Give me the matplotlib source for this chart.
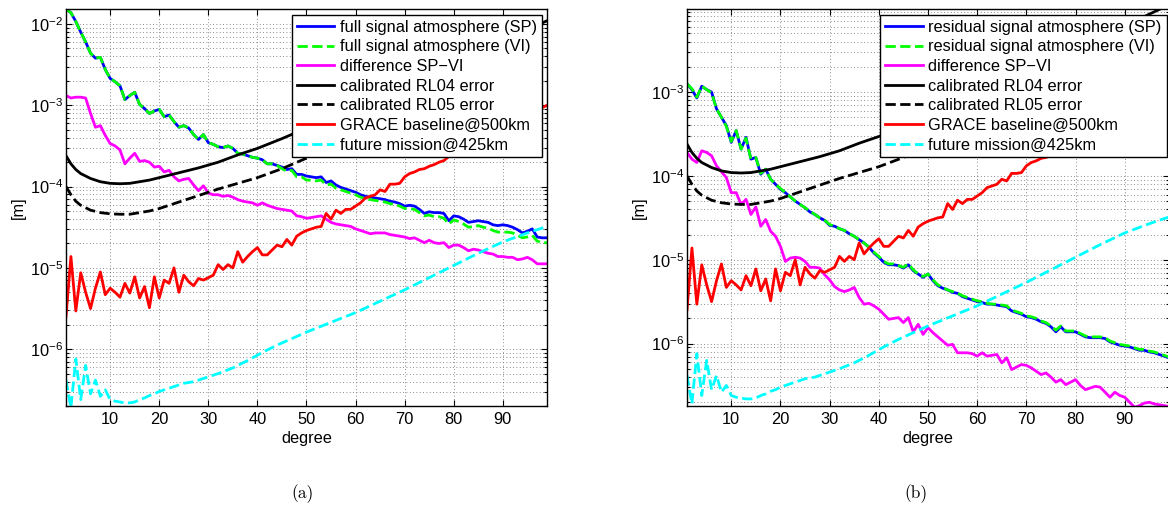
"""Degree amplitudes of atmospheric signal vs. GRACE error curves, panels (a) and (b)."""
import matplotlib
matplotlib.use('Agg')
import matplotlib.pyplot as plt
import numpy as np
from matplotlib.ticker import LogLocator, NullFormatter, FixedLocator

plt.rcParams['font.family'] = ['Liberation Sans', 'DejaVu Sans']
plt.rcParams['mathtext.fontset'] = 'custom'
plt.rcParams['mathtext.rm'] = 'Liberation Sans'
plt.rcParams['mathtext.it'] = 'Liberation Sans:italic'
plt.rcParams['mathtext.default'] = 'regular'

# spherical harmonic degree 1..99, values below are log10 of the amplitude [m]
DEG = list(range(1, 100))

LOG_FULL_SP = [
    -1.82, -1.86, -1.97, -2.10, -2.22, -2.36, -2.42, -2.41, -2.56, -2.67,
    -2.71, -2.76, -2.93, -2.88, -2.84, -2.99, -3.04, -3.10, -3.07, -3.05,
    -3.14, -3.12, -3.20, -3.27, -3.25, -3.28, -3.36, -3.42, -3.36, -3.46,
    -3.48, -3.51, -3.52, -3.50, -3.53, -3.59, -3.60, -3.62, -3.64, -3.65,
    -3.67, -3.72, -3.72, -3.74, -3.76, -3.79, -3.78, -3.85, -3.85, -3.87,
    -3.88, -3.89, -3.88, -3.95, -3.93, -3.98, -4.01, -4.03, -4.05, -4.07,
    -4.10, -4.12, -4.13, -4.14, -4.15, -4.16, -4.18, -4.19, -4.21, -4.24,
    -4.23, -4.24, -4.28, -4.33, -4.31, -4.32, -4.32, -4.33, -4.42, -4.36,
    -4.37, -4.40, -4.44, -4.43, -4.42, -4.43, -4.44, -4.47, -4.48, -4.47,
    -4.48, -4.50, -4.53, -4.57, -4.55, -4.52, -4.62, -4.63, -4.63]
LOG_FULL_VI = [
    -1.82, -1.86, -1.97, -2.10, -2.22, -2.36, -2.42, -2.41, -2.56, -2.67,
    -2.71, -2.76, -2.93, -2.88, -2.84, -2.99, -3.04, -3.10, -3.07, -3.05,
    -3.14, -3.12, -3.20, -3.27, -3.25, -3.28, -3.36, -3.42, -3.36, -3.46,
    -3.48, -3.51, -3.52, -3.50, -3.53, -3.59, -3.60, -3.62, -3.64, -3.65,
    -3.67, -3.72, -3.72, -3.74, -3.78, -3.81, -3.80, -3.88, -3.88, -3.92,
    -3.92, -3.93, -3.92, -3.98, -3.97, -4.02, -4.04, -4.06, -4.08, -4.10,
    -4.13, -4.15, -4.16, -4.17, -4.18, -4.19, -4.21, -4.22, -4.24, -4.27,
    -4.27, -4.28, -4.32, -4.36, -4.35, -4.37, -4.37, -4.39, -4.46, -4.41,
    -4.43, -4.46, -4.50, -4.49, -4.48, -4.50, -4.51, -4.54, -4.56, -4.56,
    -4.56, -4.57, -4.60, -4.63, -4.62, -4.60, -4.67, -4.69, -4.69]
LOG_DIFF_A = [
    -2.88, -2.91, -2.90, -2.90, -2.91, -3.10, -3.27, -3.25, -3.37, -3.47,
    -3.50, -3.55, -3.72, -3.65, -3.59, -3.69, -3.68, -3.70, -3.76, -3.75,
    -3.82, -3.80, -3.88, -3.93, -3.91, -3.90, -3.98, -4.05, -3.99, -4.08,
    -4.10, -4.10, -4.12, -4.11, -4.13, -4.16, -4.18, -4.19, -4.20, -4.23,
    -4.20, -4.23, -4.25, -4.27, -4.28, -4.29, -4.30, -4.36, -4.37, -4.39,
    -4.38, -4.37, -4.36, -4.40, -4.44, -4.46, -4.47, -4.48, -4.49, -4.52,
    -4.54, -4.56, -4.58, -4.57, -4.57, -4.57, -4.59, -4.60, -4.61, -4.62,
    -4.64, -4.63, -4.66, -4.69, -4.66, -4.69, -4.70, -4.69, -4.75, -4.72,
    -4.72, -4.75, -4.79, -4.77, -4.78, -4.80, -4.82, -4.83, -4.86, -4.86,
    -4.87, -4.87, -4.90, -4.89, -4.87, -4.90, -4.95, -4.95, -4.95]

LOG_RES_SP = [
    -2.90, -2.97, -3.07, -2.93, -2.97, -3.00, -3.20, -3.30, -3.40, -3.60,
    -3.46, -3.68, -3.54, -3.80, -3.78, -3.98, -3.92, -4.04, -4.10, -4.16,
    -4.20, -4.25, -4.30, -4.34, -4.38, -4.43, -4.46, -4.50, -4.53, -4.59,
    -4.60, -4.63, -4.65, -4.69, -4.72, -4.76, -4.80, -4.85, -4.92, -4.97,
    -5.03, -5.06, -5.06, -5.07, -5.10, -5.06, -5.13, -5.17, -5.21, -5.17,
    -5.25, -5.31, -5.34, -5.36, -5.39, -5.40, -5.44, -5.46, -5.48, -5.50,
    -5.51, -5.53, -5.53, -5.54, -5.55, -5.56, -5.61, -5.63, -5.65, -5.68,
    -5.69, -5.71, -5.74, -5.76, -5.80, -5.86, -5.80, -5.86, -5.86, -5.86,
    -5.89, -5.92, -5.93, -5.93, -5.93, -5.94, -5.98, -6.00, -6.02, -6.03,
    -6.04, -6.06, -6.08, -6.08, -6.10, -6.11, -6.13, -6.15, -6.17]
LOG_RES_VI = [
    -2.90, -2.96, -3.06, -2.93, -2.97, -3.01, -3.20, -3.30, -3.41, -3.59,
    -3.46, -3.68, -3.55, -3.80, -3.78, -3.97, -3.92, -4.04, -4.10, -4.15,
    -4.20, -4.25, -4.30, -4.34, -4.38, -4.42, -4.46, -4.50, -4.53, -4.58,
    -4.60, -4.63, -4.65, -4.69, -4.72, -4.76, -4.80, -4.85, -4.91, -4.96,
    -5.02, -5.05, -5.05, -5.07, -5.09, -5.05, -5.12, -5.17, -5.20, -5.17,
    -5.24, -5.30, -5.33, -5.36, -5.38, -5.40, -5.43, -5.45, -5.47, -5.49,
    -5.50, -5.52, -5.53, -5.53, -5.54, -5.55, -5.60, -5.62, -5.64, -5.67,
    -5.68, -5.70, -5.73, -5.75, -5.79, -5.84, -5.79, -5.85, -5.85, -5.85,
    -5.88, -5.91, -5.92, -5.92, -5.92, -5.93, -5.97, -5.99, -6.01, -6.02,
    -6.03, -6.05, -6.07, -6.07, -6.09, -6.10, -6.12, -6.14, -6.16]
LOG_DIFF_B = [
    -3.72, -3.80, -3.84, -3.70, -3.72, -3.76, -3.88, -3.95, -4.02, -4.20,
    -4.20, -4.34, -4.28, -4.46, -4.37, -4.60, -4.52, -4.66, -4.72, -4.84,
    -5.02, -4.98, -4.97, -4.98, -5.02, -5.09, -5.09, -5.10, -5.18, -5.24,
    -5.32, -5.36, -5.38, -5.36, -5.33, -5.45, -5.53, -5.52, -5.55, -5.59,
    -5.65, -5.71, -5.70, -5.69, -5.75, -5.69, -5.86, -5.77, -5.89, -5.81,
    -5.87, -5.92, -5.97, -6.02, -6.01, -6.11, -6.11, -6.11, -6.12, -6.15,
    -6.11, -6.15, -6.14, -6.13, -6.23, -6.17, -6.31, -6.28, -6.25, -6.26,
    -6.29, -6.33, -6.37, -6.35, -6.40, -6.46, -6.43, -6.49, -6.46, -6.43,
    -6.50, -6.55, -6.53, -6.51, -6.52, -6.58, -6.64, -6.58, -6.62, -6.64,
    -6.70, -6.76, -6.74, -6.71, -6.70, -6.72, -6.73, -6.74, -6.75]

# error curves shared by both panels
RL04_DEG = [1, 2, 3, 4, 6, 8, 10, 12, 14, 16, 18, 20, 24, 28, 32, 36, 40,
            45, 50, 55, 60, 65, 70, 75, 80, 85, 90, 95, 99]
LOG_RL04 = [-3.62, -3.72, -3.79, -3.84, -3.90, -3.94, -3.96, -3.965, -3.96,
            -3.94, -3.92, -3.89, -3.83, -3.77, -3.70, -3.61, -3.53, -3.41,
            -3.28, -3.15, -3.02, -2.89, -2.76, -2.63, -2.50, -2.36, -2.22,
            -2.07, -1.96]
RL05_DEG = [1, 2, 3, 4, 6, 8, 10, 12, 14, 16, 18, 20, 24, 28, 32, 36, 40,
            45, 50, 55, 60, 65, 70, 75, 80, 85, 90]
LOG_RL05 = [-4.00, -4.10, -4.18, -4.23, -4.29, -4.32, -4.335, -4.34, -4.34,
            -4.32, -4.30, -4.27, -4.19, -4.11, -4.03, -3.96, -3.89, -3.78,
            -3.65, -3.52, -3.38, -3.24, -3.10, -2.96, -2.82, -2.68, -2.54]
LOG_GRACE = [
    -5.60, -4.86, -5.53, -5.06, -5.30, -5.50, -5.25, -5.05, -5.33, -5.25,
    -5.30, -5.36, -5.19, -5.31, -5.11, -5.37, -5.23, -5.49, -5.11, -5.37,
    -5.15, -5.19, -5.00, -5.30, -5.09, -5.17, -5.22, -5.13, -5.15, -5.12,
    -5.09, -4.96, -5.02, -4.96, -5.00, -4.80, -4.93, -4.86, -4.80, -4.75,
    -4.84, -4.84, -4.78, -4.72, -4.74, -4.65, -4.72, -4.61, -4.57, -4.54,
    -4.52, -4.50, -4.49, -4.33, -4.40, -4.29, -4.33, -4.28, -4.28, -4.24,
    -4.20, -4.14, -4.12, -4.10, -4.04, -4.06, -3.97, -3.97, -3.96, -3.88,
    -3.84, -3.82, -3.79, -3.78, -3.75, -3.73, -3.70, -3.68, -3.63, -3.60,
    -3.58, -3.53, -3.52, -3.47, -3.45, -3.42, -3.38, -3.36, -3.33, -3.30,
    -3.26, -3.24, -3.20, -3.17, -3.13, -3.10, -3.07, -3.03, -3.00]
FUT_DEG = list(range(1, 31)) + [32, 35, 38, 41, 44, 47, 50, 55, 60, 65, 70,
                                75, 80, 85, 90, 95, 99]
LOG_FUTURE = [-6.38, -6.72, -6.12, -6.62, -6.20, -6.55, -6.38, -6.58, -6.50,
              -6.62, -6.64, -6.65, -6.66, -6.66, -6.65, -6.62, -6.60, -6.57,
              -6.55, -6.52, -6.50, -6.48, -6.46, -6.44, -6.42, -6.41, -6.40,
              -6.38, -6.36, -6.34, -6.30, -6.23, -6.14, -6.04, -5.95, -5.87,
              -5.79, -5.67, -5.55, -5.41, -5.27, -5.12, -4.97, -4.82, -4.68,
              -4.57, -4.49]

W, H = 1168, 511
FS = 11.8


def _amp(log_vals):
    return np.power(10.0, np.asarray(log_vals))


def _panel(ax, sp, vi, diff, names, ylim, leg_anchor):
    grid_kw = dict(linestyle=(0, (1, 3)), color='0.4', linewidth=0.6)
    ax.semilogy(DEG, _amp(sp), color=(0, 0, 1), lw=2, label=names[0])
    ax.semilogy(DEG, _amp(vi), color=(0, 1, 0), lw=2, ls='--', label=names[1])
    ax.semilogy(DEG, _amp(diff), color=(1, 0, 1), lw=2, label='difference SP\u2212VI')
    ax.semilogy(RL04_DEG, _amp(LOG_RL04), color='k', lw=2, label='calibrated RL04 error')
    ax.semilogy(RL05_DEG, _amp(LOG_RL05), color='k', lw=2, ls='--',
                label='calibrated RL05 error')
    ax.semilogy(DEG, _amp(LOG_GRACE), color=(1, 0, 0), lw=2, label='GRACE baseline@500km')
    ax.semilogy(FUT_DEG, _amp(LOG_FUTURE), color=(0, 1, 1), lw=2, ls='--',
                label='future mission@425km')

    ax.set_xlim(1, 99)
    ax.set_ylim(*ylim)
    ax.xaxis.set_major_locator(FixedLocator([10, 20, 30, 40, 50, 60, 70, 80, 90]))
    ax.yaxis.set_major_locator(LogLocator(base=10))
    ax.yaxis.set_minor_locator(LogLocator(base=10, subs=np.arange(2, 10)))
    ax.yaxis.set_minor_formatter(NullFormatter())
    ax.tick_params(which='both', direction='in', top=True, right=True,
                   labelsize=FS, width=0.8)
    ax.tick_params(which='major', length=4)
    ax.tick_params(which='minor', length=2.5)
    ax.tick_params(axis='x', pad=4)
    ax.tick_params(axis='y', pad=2)
    ax.grid(True, which='major', **grid_kw)
    ax.grid(True, which='minor', axis='y', **grid_kw)
    for s in ax.spines.values():
        s.set_linewidth(1.0)

    ax.set_xlabel('degree', fontsize=FS, labelpad=3)
    ax.set_ylabel('[m]', fontsize=FS, labelpad=3)

    leg = ax.legend(loc='upper right', bbox_to_anchor=leg_anchor, borderaxespad=0,
                    fontsize=FS, fancybox=False, edgecolor='k', framealpha=1,
                    handlelength=2.3, handletextpad=0.35, labelspacing=0.28,
                    borderpad=0.3)
    leg.get_frame().set_linewidth(1.0)


def main():
    fig = plt.figure(figsize=(W / 100, H / 100), dpi=100)
    top, bot = 9, 406
    ax_a = fig.add_axes([66 / W, 1 - bot / H, (547 - 66) / W, (bot - top) / H])
    ax_b = fig.add_axes([687 / W, 1 - bot / H, (1169 - 687) / W, (bot - top) / H])

    _panel(ax_a, LOG_FULL_SP, LOG_FULL_VI, LOG_DIFF_A,
           ['full signal atmosphere (SP)', 'full signal atmosphere (VI)'],
           (2.0e-7, 1.53e-2), (0.9896, 0.985))
    _panel(ax_b, LOG_RES_SP, LOG_RES_VI, LOG_DIFF_B,
           ['residual signal atmosphere (SP)', 'residual signal atmosphere (VI)'],
           (1.8e-7, 0.98e-2), (0.995, 0.985))

    fig.text(303 / W, 1 - 494 / H, '(a)', family='cmr10', fontsize=12.5,
             ha='center', va='center')
    fig.text(916 / W, 1 - 494 / H, '(b)', family='cmr10', fontsize=12.5,
             ha='center', va='center')

    fig.savefig('out.png', dpi=100)
    plt.close(fig)


if __name__ == '__main__':
    main()
